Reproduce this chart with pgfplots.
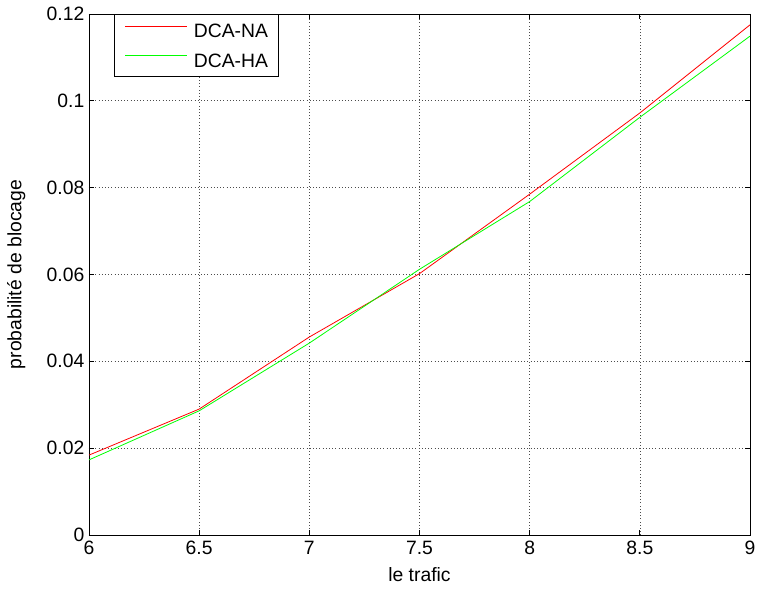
\documentclass[border=0pt]{standalone}
\usepackage{pgfplots}
\pgfplotsset{compat=1.18}
\usetikzlibrary{calc}
\usepackage{fontspec}
\setmainfont{Liberation Sans}
\pgfplotsset{
  mylegimg/.style={legend image code/.code={\draw[##1] (0pt,3.5pt) -- (46pt,3.5pt);}},
}
\begin{document}
\begin{tikzpicture}
\begin{axis}[
  name=ax,
  scale only axis,
  width=495.75pt, height=390.75pt,
  xmin=6, xmax=9, ymin=0, ymax=0.12,
  xtick={6,6.5,7,7.5,8,8.5,9},
  xticklabels={6,6.5,7,7.5,8,8.5,9},
  ytick={0,0.02,0.04,0.06,0.08,0.1,0.12},
  yticklabels={0,0.02,0.04,0.06,0.08,0.1,0.12},
  tick align=inside,
  tick pos=both,
  major tick length=4pt,
  tick style={black, line width=0.6pt},
  axis line style={black, line width=0.6pt},
  grid=major,
  grid style={black!70, dotted, line width=0.5pt},
  ticklabel style={font=\fontsize{14.5}{16}\selectfont},
  xticklabel style={yshift=-1pt},
  label style={font=\fontsize{14.5}{16}\selectfont},
  xlabel={le trafic},
  ylabel={probabilité de blocage},
  xlabel style={yshift=-3pt},
  ylabel style={yshift=9pt},
  legend style={at={(rel axis cs:0,1)}, xshift=18.75pt, anchor=north west,
    draw=black, line width=0.6pt, font=\fontsize{14.5}{16}\selectfont,
    inner xsep=8pt, inner ysep=7pt, row sep=11.5pt, column sep=5pt,
    nodes={inner sep=0pt, text height=10.5pt, text depth=0pt}},
  legend cell align=left,
  mylegimg,
]
\addplot[draw=red, line width=0.6pt] coordinates {
(6,0.0184) (6.5,0.0290) (7,0.0456) (7.5,0.0602) (8,0.0785) (8.5,0.0972) (9,0.1175)};
\addlegendentry{DCA-NA}
\addplot[draw=green, line width=0.6pt] coordinates {
(6,0.0173) (6.5,0.0286) (7,0.0442) (7.5,0.0612) (8,0.0768) (8.5,0.0962) (9,0.1149)};
\addlegendentry{DCA-HA}
\end{axis}
\pgfresetboundingbox
\path[use as bounding box] ($(ax.south west)+(-66.75pt,-42.75pt)$) rectangle ($(ax.north east)+(5.25pt,10.5pt)$);
\end{tikzpicture}
\end{document}
